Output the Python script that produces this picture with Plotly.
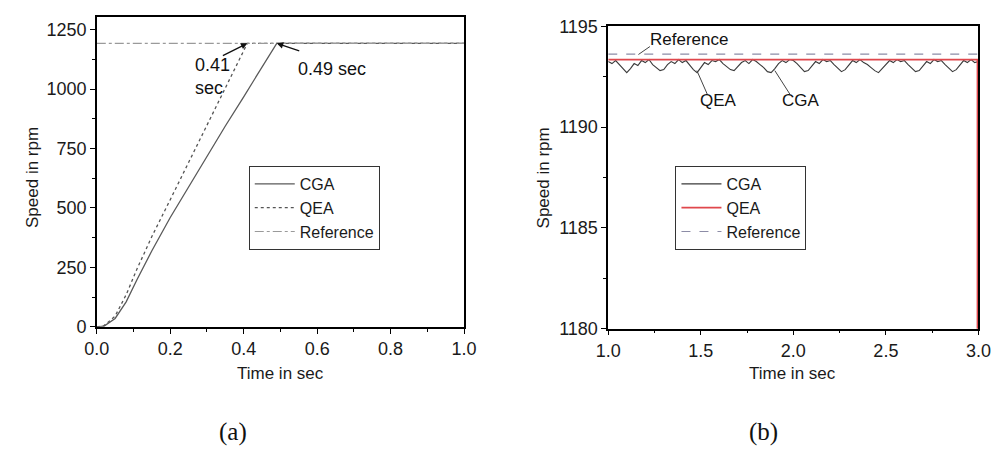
import plotly.graph_objects as go

W, H = 1008, 466

# ---------------- data: panel (a) ----------------
t_cga_a = [0.0, 0.02, 0.05, 0.08, 0.11, 0.15, 0.20, 0.25, 0.30, 0.35, 0.40, 0.45, 0.49, 1.0]
s_cga_a = [0, 3, 35, 105, 200, 320, 460, 590, 718, 845, 968, 1092, 1193, 1193]
t_qea_a = [0.0, 0.02, 0.05, 0.08, 0.11, 0.15, 0.20, 0.25, 0.30, 0.35, 0.41, 1.0]
s_qea_a = [0, 5, 45, 135, 245, 380, 535, 690, 845, 1000, 1193, 1193]
t_ref_a = [0.0, 1.0]
s_ref_a = [1193, 1193]

# ---------------- data: panel (b) ----------------
t_b = [1.00, 1.02, 1.04, 1.06, 1.08, 1.10, 1.12, 1.14, 1.16, 1.18,
       1.20, 1.22, 1.24, 1.26, 1.28, 1.30, 1.32, 1.34, 1.36, 1.38,
       1.40, 1.42, 1.44, 1.46, 1.48, 1.50, 1.52, 1.54, 1.56, 1.58,
       1.60, 1.62, 1.64, 1.66, 1.68, 1.70, 1.72, 1.74, 1.76, 1.78,
       1.80, 1.82, 1.84, 1.86, 1.88, 1.90, 1.92, 1.94, 1.96, 1.98,
       2.00, 2.02, 2.04, 2.06, 2.08, 2.10, 2.12, 2.14, 2.16, 2.18,
       2.20, 2.22, 2.24, 2.26, 2.28, 2.30, 2.32, 2.34, 2.36, 2.38,
       2.40, 2.42, 2.44, 2.46, 2.48, 2.50, 2.52, 2.54, 2.56, 2.58,
       2.60, 2.62, 2.64, 2.66, 2.68, 2.70, 2.72, 2.74, 2.76, 2.78,
       2.80, 2.82, 2.84, 2.86, 2.88, 2.90, 2.92, 2.94, 2.96, 2.98,
       3.00]
s_cga_b = [1193.25, 1193.15, 1193.30, 1193.10, 1192.85, 1192.70, 1192.90, 1193.15, 1193.05, 1193.30,
           1193.20, 1193.35, 1193.10, 1192.95, 1192.80, 1192.85, 1193.10, 1193.25, 1193.15, 1193.35,
           1193.20, 1193.30, 1193.05, 1192.85, 1192.70, 1192.95, 1193.20, 1193.10, 1193.30, 1193.25,
           1193.35, 1193.15, 1193.00, 1192.85, 1192.80, 1193.00, 1193.20, 1193.30, 1193.15, 1193.35,
           1193.25, 1193.10, 1192.95, 1192.75, 1192.70, 1192.90, 1193.15, 1193.30, 1193.20, 1193.35,
           1193.30, 1193.15, 1192.95, 1192.75, 1192.80, 1193.05, 1193.25, 1193.15, 1193.35, 1193.25,
           1193.30, 1193.10, 1192.90, 1192.75, 1192.85, 1193.10, 1193.30, 1193.20, 1193.35, 1193.20,
           1193.10, 1192.95, 1192.80, 1192.70, 1192.90, 1193.15, 1193.30, 1193.20, 1193.35, 1193.25,
           1193.30, 1193.10, 1192.90, 1192.75, 1192.80, 1193.05, 1193.25, 1193.15, 1193.35, 1193.25,
           1193.30, 1193.10, 1192.90, 1192.75, 1192.85, 1193.10, 1193.30, 1193.20, 1193.35, 1193.20,
           1193.25]
t_qea_b = [1.0, 2.995, 2.995]
s_qea_b = [1193.35, 1193.35, 1170.0]
t_ref_b = [1.0, 3.0]
s_ref_b = [1193.62, 1193.62]

FONT = "Liberation Sans, Arial, sans-serif"


def px(x):
    return x / W


def py(y):
    return 1 - y / H


fig = go.Figure()

# panel (a)
fig.add_trace(go.Scatter(x=t_cga_a, y=s_cga_a, name="CGA", mode="lines",
                         line=dict(color="#5a5a5a", width=1.3), xaxis="x", yaxis="y", legend="legend"))
fig.add_trace(go.Scatter(x=t_qea_a, y=s_qea_a, name="QEA", mode="lines",
                         line=dict(color="#555555", width=1.3, dash="dot"), xaxis="x", yaxis="y", legend="legend"))
fig.add_trace(go.Scatter(x=t_ref_a, y=s_ref_a, name="Reference", mode="lines",
                         line=dict(color="#9a9a9a", width=1.2, dash="dashdot"), xaxis="x", yaxis="y", legend="legend"))

# panel (b)
fig.add_trace(go.Scatter(x=t_b, y=s_cga_b, name="CGA", mode="lines",
                         line=dict(color="#3a3a3a", width=1.1), xaxis="x2", yaxis="y2", legend="legend2"))
fig.add_trace(go.Scatter(x=t_qea_b, y=s_qea_b, name="QEA", mode="lines",
                         line=dict(color="#e0474c", width=1.8), xaxis="x2", yaxis="y2", legend="legend2"))
fig.add_trace(go.Scatter(x=t_ref_b, y=s_ref_b, name="Reference", mode="lines",
                         line=dict(color="#8c8ca6", width=1.1, dash="dash"), xaxis="x2", yaxis="y2", legend="legend2"))

axis_common = dict(showline=True, linecolor="black", linewidth=1.5, mirror=True,
                   ticks="outside", ticklen=5, tickwidth=1.2, tickcolor="black",
                   showgrid=False, zeroline=False,
                   tickfont=dict(family=FONT, size=18, color="#1a1a1a"))

fig.update_layout(
    width=W, height=H,
    margin=dict(l=0, r=0, t=0, b=0),
    paper_bgcolor="white", plot_bgcolor="white",
    font=dict(family=FONT, color="#1a1a1a"),
    xaxis=dict(domain=[px(86), px(463)], range=[0, 1.0], dtick=0.2, tickformat=".1f",
               minor=dict(ticks="outside", ticklen=3, dtick=0.1, tickcolor="black"),
               anchor="y", **axis_common),
    yaxis=dict(domain=[py(331), py(7)], range=[0, 1305], dtick=250,
               minor=dict(ticks="outside", ticklen=3, dtick=125, tickcolor="black"),
               anchor="x", **axis_common),
    xaxis2=dict(domain=[px(611), px(991)], range=[1.0, 3.0], dtick=0.5, tickformat=".1f",
                minor=dict(ticks="outside", ticklen=3, dtick=0.25, tickcolor="black"),
                anchor="y2", **axis_common),
    yaxis2=dict(domain=[py(333), py(17)], range=[1180, 1195], dtick=5,
                minor=dict(ticks="outside", ticklen=3, dtick=2.5, tickcolor="black"),
                anchor="x2", **axis_common),
    legend=dict(x=px(242), y=py(163), xanchor="left", yanchor="top",
                bordercolor="#333", borderwidth=1, bgcolor="white",
                font=dict(family=FONT, size=16, color="#1a1a1a"),
                itemwidth=40, tracegroupgap=0),
    legend2=dict(x=px(680), y=py(163), xanchor="left", yanchor="top",
                 bordercolor="#333", borderwidth=1, bgcolor="white",
                 font=dict(family=FONT, size=16, color="#1a1a1a"),
                 itemwidth=40, tracegroupgap=0),
    showlegend=True,
)

ann = []
# axis titles
for (x, y, txt, ang) in [(20, 175, "Speed in rpm", -90), (545, 175, "Speed in rpm", -90),
                         (275, 380, "Time in sec", 0), (800, 380, "Time in sec", 0)]:
    ann.append(dict(x=px(x), y=py(y), xref="paper", yref="paper", text=txt, showarrow=False,
                    textangle=ang, xanchor="center", yanchor="middle",
                    font=dict(family=FONT, size=17, color="#1a1a1a")))
# captions
for (x, txt) in [(226, "(a)"), (770, "(b)")]:
    ann.append(dict(x=px(x), y=py(441), xref="paper", yref="paper", text=txt, showarrow=False,
                    xanchor="center", yanchor="middle",
                    font=dict(family="Liberation Serif, Times New Roman, serif", size=25, color="#111")))

# panel (a) arrows and labels
ann.append(dict(x=0.41, y=1193, xref="x", yref="y", text="", showarrow=True,
                ax=-26, ay=13, arrowhead=2, arrowsize=1, arrowwidth=1.3, arrowcolor="#111", standoff=0))
ann.append(dict(x=0.49, y=1193, xref="x", yref="y", text="", showarrow=True,
                ax=24, ay=8, arrowhead=2, arrowsize=1, arrowwidth=1.3, arrowcolor="#111", standoff=0))
ann.append(dict(x=px(185), y=py(70), xref="paper", yref="paper", text="0.41<br>sec", showarrow=False,
                xanchor="left", yanchor="middle", align="left",
                font=dict(family=FONT, size=18, color="#111")))
ann.append(dict(x=px(290), y=py(62), xref="paper", yref="paper", text="0.49 sec", showarrow=False,
                xanchor="left", yanchor="middle",
                font=dict(family=FONT, size=18, color="#111")))

# panel (b) leader lines and labels
for (x, y, ax, ay) in [(1.163, 1193.6, 13, -9), (1.479, 1192.8, 11, 25), (1.90, 1192.8, 16, 25)]:
    ann.append(dict(x=x, y=y, xref="x2", yref="y2", text="", showarrow=True,
                    ax=ax, ay=ay, arrowhead=0, arrowwidth=1, arrowcolor="#444", standoff=0))
for (x, y, txt) in [(694, 31, "Reference"), (724, 95, "QEA"), (809, 95, "CGA")]:
    ann.append(dict(x=px(x), y=py(y), xref="paper", yref="paper", text=txt, showarrow=False,
                    xanchor="center", yanchor="middle",
                    font=dict(family=FONT, size=17, color="#111")))

fig.update_layout(annotations=ann)
fig.write_html("out.html")
